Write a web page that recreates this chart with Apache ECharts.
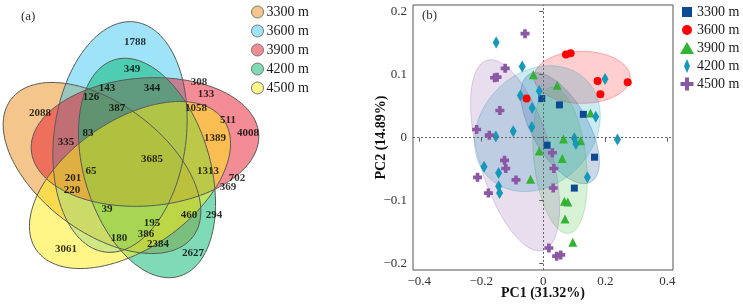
<!DOCTYPE html>
<html><head><meta charset="utf-8">
<script src="https://cdn.jsdelivr.net/npm/echarts@6/dist/echarts.min.js"></script>
<style>html,body{margin:0;padding:0;background:#fff}#c{width:743px;height:304px}</style>
</head><body><div id="c"></div>
<script>
const groups = ['3300 m','3600 m','3900 m','4200 m','4500 m'];

// ---------- (a) Venn diagram ----------
const vennCounts = [1788,349,308,133,143,344,126,387,1058,2088,511,83,1389,4008,335,3685,65,1313,201,702,369,220,39,460,294,195,386,180,2384,3061,2627];
const vennCountX = [135,132,199,206,107,152,91,117,196,40,228,88,215,248,66,152,91,208,73,237,228,72,107,189,214,152,146,119,158,66,193];
const vennCountY = [42,69,82,94,88,88,97,108,108,113,120,133,138,133,142,159,171,171,178,178,187,190,209,215,215,223,234,238,244,249,253];
// ellipse layout of the five sets (centre, semi-axes, rotation)
const vennCx = [102,120,145,147,130];
const vennCy = [168,137,142,168,185];
const vennA = [114,116,114,113,114];
const vennB = [64,66,64,63,64];
const vennAngle = [37,-82.6,-4,73.3,-34.7];

// ---------- (b) PCA ----------
const pc1_3300 = [-0.005,0.052,0.129,0.012,0.165,0.100];
const pc2_3300 = [0.062,0.052,0.037,-0.012,-0.031,-0.080];
const pc1_3600 = [0.073,0.088,0.175,0.272,0.184,-0.054];
const pc2_3600 = [0.132,0.134,0.090,0.088,0.069,0.062];
const pc1_3900 = [-0.032,0.045,0.152,0.065,0.120,-0.013,0.061,-0.041,0.068,0.079,0.070,0.095];
const pc2_3900 = [0.100,0.083,0.039,-0.002,-0.005,-0.021,-0.033,-0.066,-0.101,-0.102,-0.129,-0.166];
const pc1_4200 = [-0.152,-0.068,-0.013,0.199,-0.074,-0.036,0.169,-0.037,-0.097,-0.153,0.100,0.105,0.239,-0.191,-0.144,0.142,-0.144,-0.141];
const pc2_4200 = [0.151,0.113,0.074,0.093,0.067,0.047,0.033,0.017,0.010,0.002,-0.001,-0.010,-0.003,-0.046,-0.056,-0.063,-0.077,-0.088];
const pc1_4500 = [-0.059,-0.123,-0.157,-0.149,-0.140,-0.215,-0.174,-0.125,-0.121,-0.088,-0.212,-0.177,0.029,0.034,0.032,0.018,0.043,0.056];
const pc2_4500 = [0.165,0.110,0.095,0.096,0.043,0.013,0.004,-0.036,-0.049,-0.067,-0.063,-0.088,-0.024,-0.049,-0.080,-0.175,-0.188,-0.186];
const pc1 = [pc1_3300,pc1_3600,pc1_3900,pc1_4200,pc1_4500];
const pc2 = [pc2_3300,pc2_3600,pc2_3900,pc2_4200,pc2_4500];
// confidence ellipses: centre and two half-axis vectors (data units)
const ellCx = [0.054,0.125,0.054,-0.019,-0.091];
const ellCy = [0.015,0.0957,-0.036,0.0143,-0.028];
const ellUx = [0.100,0.155,0.0274,0.157,0.0903];
const ellUy = [-0.0852,0,-0.1159,0.0775,-0.1508];
const ellVx = [0.078,0,0.0833,0.128,0.1115];
const ellVy = [0.0222,0.0413,0.0048,-0.0629,0.0162];
const pc1Ticks = [-0.4,-0.2,0,0.2,0.4];
const pc2Ticks = [-0.2,-0.1,0,0.1,0.2];

// ---------- styles ----------
const serif = 'Liberation Serif';
const vennFill = ['rgba(233,142,25,0.5)','rgba(62,200,240,0.5)','rgba(232,25,43,0.5)','rgba(0,184,110,0.5)','rgba(255,238,16,0.5)'];
const vennLegend = ['#F4C68C','#9EE3F7','#F38C95','#7FDBB6','#FFF687'];
const pcaColor = ['#0C4A94','#FF0000','#33B233','#1499BA','#8B58A6'];
const pcaFill = ['rgba(14,77,146,0.22)','rgba(255,60,60,0.25)','rgba(60,190,60,0.2)','rgba(19,160,192,0.22)','rgba(142,91,168,0.2)'];
const crossPath = 'path://M3 0H7V3H10V7H7V10H3V7H0V3H3Z';
const pcaSymbol = ['rect','circle','triangle','diamond',crossPath];
const pcaSize = [7,8,9,[7,12],9];
const pcaLegendIcon = [
  'path://M0 0M14 14M2 2H12V12H2Z',
  'path://M0 0M14 14M2 7A5 5 0 1 0 12 7A5 5 0 1 0 2 7Z',
  'path://M0 0M14 14M7 1L14 13H0Z',
  'path://M0 0M14 14M7 0L10 7L7 14L4 7Z',
  'path://M0 0M14 14M5 0.5H9V5H13.5V9H9V13.5H5V9H0.5V5H5Z'
];

function ellipsePoints(api, cx, cy, ux, uy, vx, vy) {
  const pts = [];
  const n = 120;
  for (let i = 0; i < n; i++) {
    const t = 2 * Math.PI * i / n;
    pts.push(api.coord([cx + ux * Math.cos(t) + vx * Math.sin(t), cy + uy * Math.cos(t) + vy * Math.sin(t)]));
  }
  return pts;
}
function vennRender(fillMode) {
  return function (params, api) {
    const cx = api.value(0), cy = api.value(1), a = api.value(2), b = api.value(3), ang = api.value(4) * Math.PI / 180;
    const pts = ellipsePoints(api, cx, cy, a * Math.cos(ang), a * Math.sin(ang), -b * Math.sin(ang), b * Math.cos(ang));
    return {type: 'polygon', shape: {points: pts},
      style: fillMode ? {fill: vennFill[params.dataIndex], stroke: null} : {fill: null, stroke: '#5a5a5a', lineWidth: 1}};
  };
}

const series = [];
series.push({type: 'custom', name: 'vennFill', xAxisIndex: 1, yAxisIndex: 1, silent: true, clip: false,
  data: vennCx.map((c, i) => [c, vennCy[i], vennA[i], vennB[i], vennAngle[i]]), renderItem: vennRender(true)});
series.push({type: 'custom', name: 'vennLine', xAxisIndex: 1, yAxisIndex: 1, silent: true, clip: false,
  data: vennCx.map((c, i) => [c, vennCy[i], vennA[i], vennB[i], vennAngle[i]]), renderItem: vennRender(false)});
series.push({type: 'scatter', name: 'vennCounts', xAxisIndex: 1, yAxisIndex: 1, silent: true,
  symbolSize: 1, itemStyle: {color: 'rgba(0,0,0,0)'},
  data: vennCounts.map((v, i) => [vennCountX[i], vennCountY[i], v]),
  label: {show: true, position: 'inside', formatter: p => String(p.value[2]),
    fontFamily: serif, fontWeight: 'bold', fontSize: 11, color: '#000'}});

groups.forEach((g, k) => {
  const s = {type: 'scatter', name: g, xAxisIndex: 0, yAxisIndex: 0,
    symbol: pcaSymbol[k], symbolSize: pcaSize[k], itemStyle: {color: pcaColor[k], opacity: 1},
    data: pc1[k].map((x, i) => [x, pc2[k][i]])};
  if (k === 0) {
    s.markLine = {silent: true, symbol: ['none', 'none'], label: {show: false}, animation: false,
      lineStyle: {type: [2, 2], color: '#666', width: 1}, data: [{xAxis: 0}, {yAxis: 0}]};
  }
  series.push(s);
});
series.push({type: 'custom', name: 'pcaEllipses', xAxisIndex: 0, yAxisIndex: 0, silent: true, clip: true,
  data: ellCx.map((c, i) => [c, ellCy[i], ellUx[i], ellUy[i], ellVx[i], ellVy[i]]),
  renderItem: (params, api) => {
    const k = params.dataIndex;
    const pts = ellipsePoints(api, api.value(0), api.value(1), api.value(2), api.value(3), api.value(4), api.value(5));
    return {type: 'polygon', shape: {points: pts}, style: {fill: pcaFill[k], stroke: pcaColor[k], opacity: 1, lineWidth: 0.6, strokeOpacity: 0.45}};
  }});

const fmt = v => (v < 0 ? '\u2212' + String(Math.abs(v)) : String(v));
const option = {
  animation: false,
  backgroundColor: '#fff',
  title: [
    {text: '(a)', left: 16, top: 5, textStyle: {fontFamily: serif, fontSize: 13, fontWeight: 'normal', color: '#333'}},
    {text: '(b)', left: 417, top: 4, textStyle: {fontFamily: serif, fontSize: 13, fontWeight: 'normal', color: '#333'}}
  ],
  legend: [
    {left: 246, top: 0, orient: 'vertical', itemWidth: 12, itemHeight: 14, itemGap: 5, selectedMode: false,
      textStyle: {fontFamily: serif, fontSize: 14, color: '#1a1a1a', padding: [0, 0, 0, -2]},
      data: groups.map((g, i) => ({name: g, icon: 'circle', itemStyle: {color: vennLegend[i], borderColor: '#777', borderWidth: 1}}))},
    {left: 675, top: 0, orient: 'vertical', itemWidth: 14, itemHeight: 14, itemGap: 4, selectedMode: false,
      textStyle: {fontFamily: serif, fontSize: 14, color: '#1a1a1a', padding: [0, 0, 0, -2]},
      data: groups.map((g, i) => ({name: g, icon: pcaLegendIcon[i], itemStyle: {color: pcaColor[i]}}))}
  ],
  grid: [
    {left: 413, top: 5, width: 260, height: 265, show: true, borderColor: '#555', borderWidth: 1,
      backgroundColor: 'transparent', outerBoundsMode: 'none', containLabel: false},
    {left: 0, top: 0, width: 370, height: 304, show: false, outerBoundsMode: 'none'}
  ],
  xAxis: [
    {type: 'value', gridIndex: 0, min: -0.42, max: 0.418, name: 'PC1 (31.32%)', nameLocation: 'middle', nameGap: 16,
      nameMoveOverlap: false,
      nameTextStyle: {fontFamily: serif, fontSize: 14, fontWeight: 'bold', color: '#111'},
      axisLine: {show: false}, splitLine: {show: false},
      axisTick: {show: true, length: 4, customValues: pc1Ticks, lineStyle: {color: '#555'}},
      axisLabel: {customValues: pc1Ticks, formatter: fmt, fontFamily: serif, fontSize: 13, color: '#333', margin: 5}},
    {type: 'value', gridIndex: 1, min: 0, max: 370, show: false}
  ],
  yAxis: [
    {type: 'value', gridIndex: 0, min: -0.21, max: 0.2105, name: 'PC2 (14.89%)', nameLocation: 'middle', nameGap: 25,
      nameMoveOverlap: false,
      nameTextStyle: {fontFamily: serif, fontSize: 14, fontWeight: 'bold', color: '#111'},
      axisLine: {show: false}, splitLine: {show: false},
      axisTick: {show: true, length: 4, customValues: pc2Ticks, lineStyle: {color: '#555'}},
      axisLabel: {customValues: pc2Ticks, formatter: fmt, fontFamily: serif, fontSize: 13, color: '#333', margin: 6}},
    {type: 'value', gridIndex: 1, min: 0, max: 304, inverse: true, show: false}
  ],
  series: series
};
const chart = echarts.init(document.getElementById('c'));
chart.setOption(option);
</script></body></html>
